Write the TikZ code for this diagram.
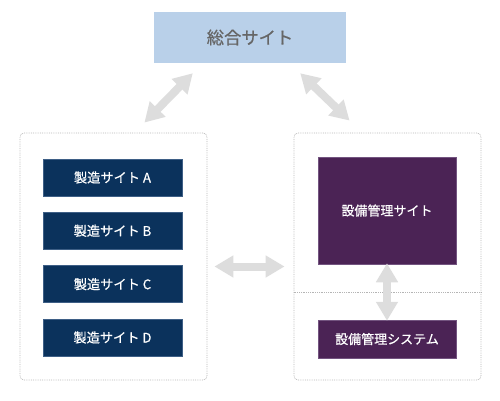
\documentclass[tikz,border=0pt]{standalone}
\usepackage{fontspec}
\newfontfamily\jpfont[FakeBold=0.6]{Noto Sans CJK JP}
\usetikzlibrary{arrows.meta}
\definecolor{topblue}{HTML}{B9D0E9}
\definecolor{toptext}{HTML}{666666}
\definecolor{sitenavy}{HTML}{0B325C}
\definecolor{navyedge}{HTML}{3E5F86}
\definecolor{sitepurple}{HTML}{4B2355}
\definecolor{purpleedge}{HTML}{735480}
\definecolor{framegray}{HTML}{B5B5B5}
\definecolor{arrowgray}{HTML}{DDDDDD}
\begin{document}
\begin{tikzpicture}[x=1pt, y=-1pt,
    frame/.style={draw=framegray, densely dotted, line width=0.8pt, rounded corners=4pt, minimum width=187pt, minimum height=247pt, inner sep=0pt},
    mfgbox/.style={fill=sitenavy, draw=navyedge, line width=0.5pt, text=white, minimum width=139pt, minimum height=37pt, inner sep=0pt, font=\jpfont\fontsize{13.2}{15}\selectfont},
    eqbox/.style={fill=sitepurple, draw=purpleedge, line width=0.5pt, text=white, minimum width=138pt, inner sep=0pt, font=\jpfont\fontsize{13}{15}\selectfont},
    bigarrow/.style={draw=arrowgray, line width=8pt, {Triangle[width=21pt,length=19pt]}-{Triangle[width=21pt,length=19pt]}}]
    \useasboundingbox (0,0) rectangle (500,401) ;
    \node [fill=topblue, text=toptext, minimum width=192pt, minimum height=51pt, inner sep=0pt, font=\jpfont\fontsize{17.3}{19}\selectfont] (top) at (250,37.5) {総合サイト} ;
    % manufacturing sites
    \node [frame] (mfg) at (113.5,256.5) {} ;
    \node [mfgbox] (siteA) at (112.5,177.5) {製造サイト A} ;
    \node [mfgbox] (siteB) at (112.5,230.8) {製造サイト B} ;
    \node [mfgbox] (siteC) at (112.5,284.2) {製造サイト C} ;
    \node [mfgbox] (siteD) at (112.5,337.5) {製造サイト D} ;
    % equipment management
    \node [frame] (equip) at (387.5,256.5) {} ;
    \node [eqbox, minimum height=107pt] (eqsite) at (387,210.5) {設備管理サイト} ;
    \node [eqbox, minimum height=38pt] (eqsys) at (387,339) {設備管理システム} ;
    \draw [framegray, densely dotted, line width=0.8pt] (equip.west |- 0,292) -- (equip.east |- 0,292) ;
    % arrows
    \draw [bigarrow] ([shift={(39,10)}]top.south west) -- ([shift={(-63,-10)}]mfg.north east) ;
    \draw [bigarrow] ([shift={(-46,10)}]top.south east) -- ([shift={(56,-12)}]equip.north west) ;
    \draw [bigarrow] ([shift={(7,10)}]mfg.east) -- ([shift={(-9,10)}]equip.west) ;
    \draw [bigarrow] ([yshift=1]eqsite.south) -- ([yshift=-1]eqsys.north) ;
\end{tikzpicture}
\end{document}
